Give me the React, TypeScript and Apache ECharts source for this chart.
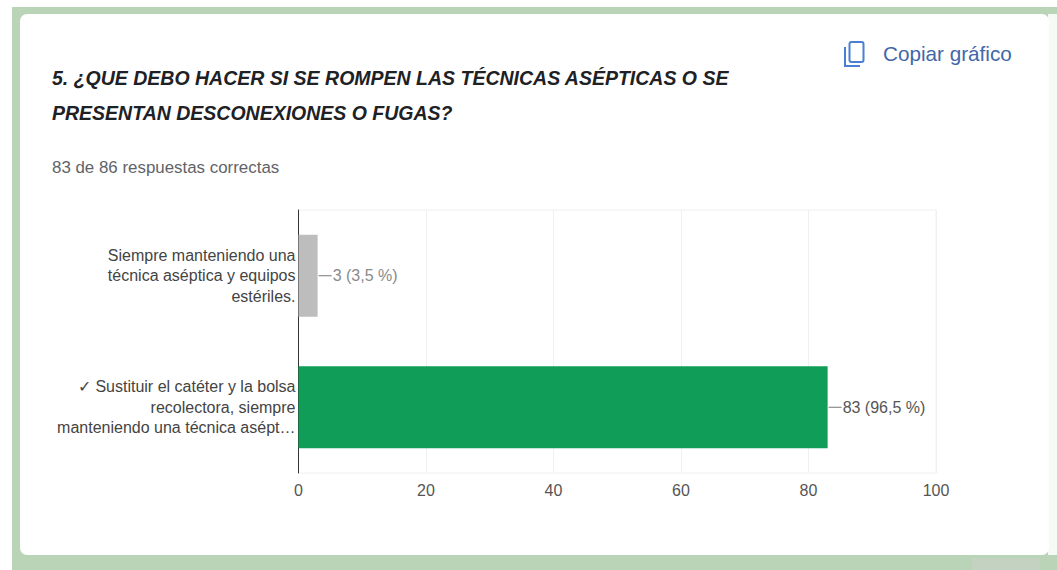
import React, { useEffect, useRef } from "react";
import * as echarts from "echarts";

const categories = [
  "Siempre manteniendo una\ntécnica aséptica y equipos\nestériles.",
  "✓ Sustituir el catéter y la bolsa\nrecolectora, siempre\nmanteniendo una técnica asépt…",
];
const values = [3, 83];
const valueLabels = ["3 (3,5 %)", "83 (96,5 %)"];
const barColors = ["#bdbdbd", "#0f9d58"];
const labelColors = ["#8a8a8a", "#555555"];
const titleLines = "5. ¿QUE DEBO HACER SI SE ROMPEN LAS TÉCNICAS ASÉPTICAS O SE\nPRESENTAN DESCONEXIONES O FUGAS?";
const subtitle = "83 de 86 respuestas correctas";
const copyText = "Copiar gráfico";
const font = "'Liberation Sans', Arial, sans-serif";

export default function App() {
  const ref = useRef<HTMLDivElement>(null);
  useEffect(() => {
    const chart = echarts.init(ref.current!, null, { renderer: "svg" });
    chart.setOption({
      animation: false,
      backgroundColor: "#ffffff",
      textStyle: { fontFamily: font },
      grid: { left: 298.5, top: 210, width: 637.5, height: 263, containLabel: false, show: true, borderColor: "#f0f0f0", borderWidth: 1 },
      xAxis: {
        type: "value",
        min: 0,
        max: 100,
        interval: 20,
        axisLine: { show: false },
        axisTick: { show: false },
        splitLine: { show: true, lineStyle: { color: "#f0f0f0", width: 1 } },
        axisLabel: { color: "#555555", fontSize: 16, margin: 9, fontFamily: font },
      },
      yAxis: {
        type: "category",
        inverse: true,
        data: categories,
        axisLine: { show: true, onZero: false, lineStyle: { color: "#333333", width: 1 } },
        axisTick: { show: false },
        axisLabel: {
          color: "#444444",
          fontSize: 16,
          lineHeight: 20.5,
          margin: 3,
          align: "right",
          fontFamily: font,
        },
      },
      series: [
        {
          type: "bar",
          barCategoryGap: "37.6%",
          z: 3,
          data: values.map((v, i) => ({
            value: v,
            itemStyle: { color: barColors[i] },
            label: {
              show: true,
              position: "right",
              distance: 15,
              formatter: valueLabels[i],
              color: labelColors[i],
              fontSize: 16,
              fontFamily: font,
            },
          })),
        },
        {
          type: "custom",
          z: 4,
          silent: true,
          data: values.map((v, i) => [v, i]),
          encode: { x: 0, y: 1 },
          renderItem: (params: any, api: any) => {
            const p = api.coord([api.value(0), api.value(1)]);
            return {
              type: "line",
              shape: { x1: p[0] + 1, y1: p[1], x2: p[0] + 14, y2: p[1] },
              style: { stroke: "#777777", lineWidth: 1 },
            };
          },
        },
      ],
      graphic: [
        { type: "rect", z: -10, silent: true, shape: { x: 12, y: 7, width: 1045, height: 563 }, style: { fill: "#bad4b8" } },
        { type: "rect", z: -9, silent: true, shape: { x: 1048, y: 14, width: 9, height: 541 }, style: { fill: "#f5faf4" } },
        { type: "rect", z: -8, silent: true, shape: { x: 20, y: 14, width: 1029, height: 541, r: 7 }, style: { fill: "#ffffff" } },
        { type: "rect", z: -7, silent: true, shape: { x: 972, y: 558, width: 68, height: 12 }, style: { fill: "#c3d2c1" } },
        {
          type: "text", left: 52, top: 60, z: 5,
          style: { text: titleLines, fill: "#202124", font: `italic bold 19.5px ${font}`, lineHeight: 35 },
        },
        {
          type: "text", left: 52, top: 159, z: 5,
          style: { text: subtitle, fill: "#5f6368", font: `16.9px ${font}` },
        },
        {
          type: "text", left: 883, top: 43, z: 5,
          style: { text: copyText, fill: "#4267a8", font: `20.7px ${font}` },
        },
        { type: "rect", z: 5, shape: { x: 849.5, y: 42, width: 14, height: 20, r: 2 }, style: { fill: "#ffffff", stroke: "#4a7fd6", lineWidth: 2 } },
        { type: "polyline", z: 5, shape: { points: [[845, 47], [845, 66], [860, 66]] }, style: { fill: "none", stroke: "#4a7fd6", lineWidth: 2 } },
      ],
    });
    return () => chart.dispose();
  }, []);
  return <div ref={ref} style={{ position: "absolute", left: 0, top: 0, width: 1057, height: 570 }} />;
}
